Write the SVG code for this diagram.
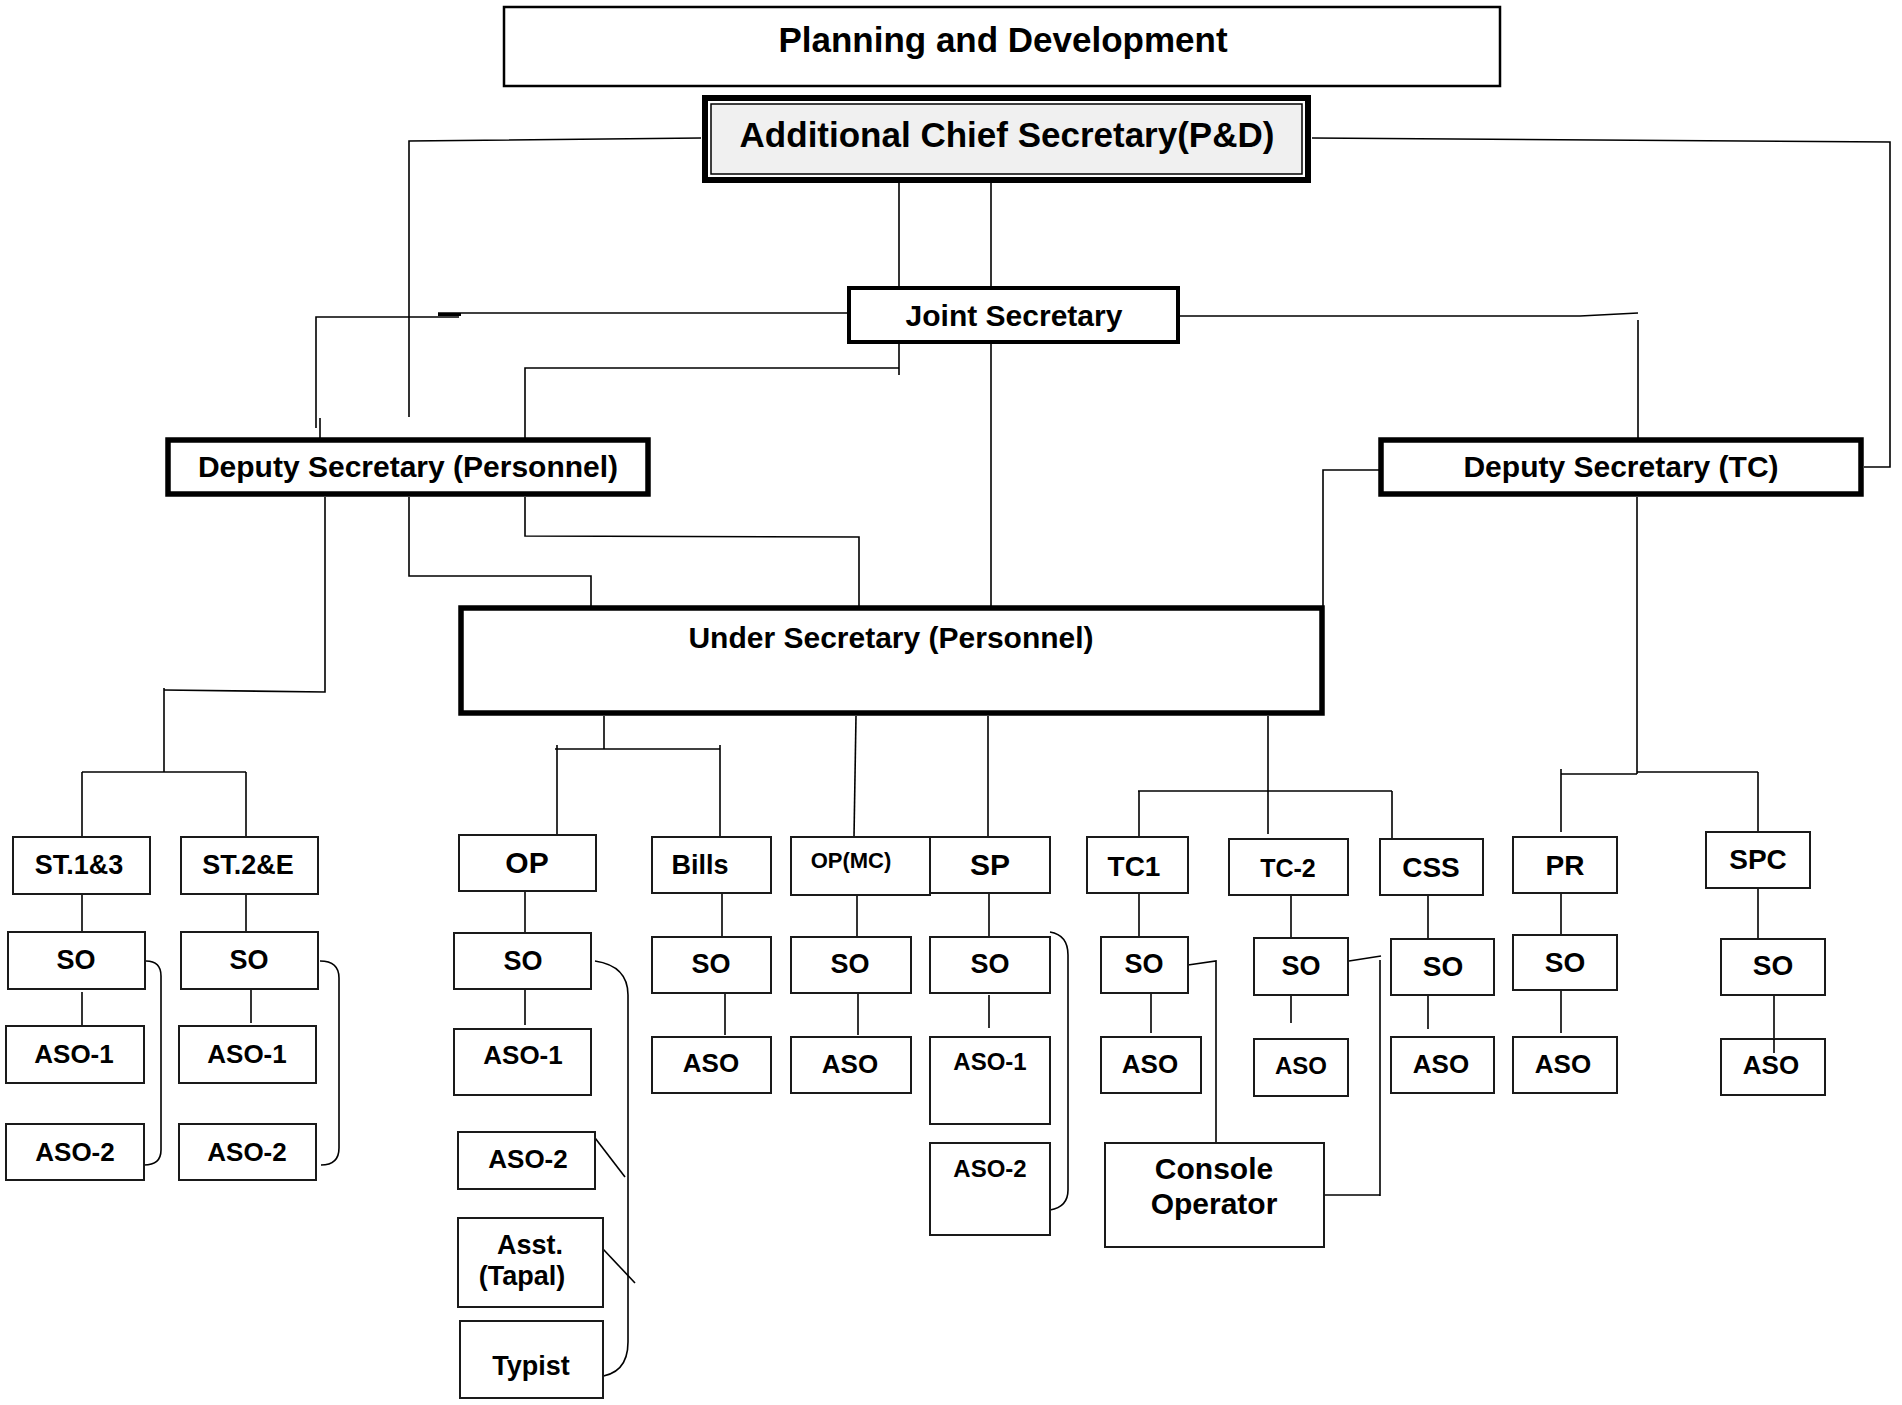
<svg xmlns="http://www.w3.org/2000/svg" width="1902" height="1405" viewBox="0 0 1902 1405">
<style>
.box{fill:#fff;stroke:#1a1a1a;stroke-width:2}
.b4{fill:#fff;stroke:#000;stroke-width:4}
.b5{fill:#fff;stroke:#000;stroke-width:5.5}
.t{font-family:"Liberation Sans",Arial,sans-serif;font-weight:bold;text-anchor:middle;fill:#000}
.s35{font-size:35px}.s30{font-size:30px}.s28{font-size:28px}.s27{font-size:27px}.s26{font-size:26px}.s24{font-size:24px}.s22{font-size:22px}
.ln{fill:none;stroke:#000;stroke-width:1.6}
</style>
<rect width="1902" height="1405" fill="#fff"/>
<g id="connectors" class="ln">
<polyline points="701,138 409,141 409,417"/>
<polyline points="1312,138 1890,142 1890,467 1864,467"/>
<line x1="899" y1="183" x2="899" y2="286"/>
<line x1="991" y1="183" x2="991" y2="286"/>
<line x1="847" y1="313" x2="438" y2="313"/>
<line x1="438" y1="314.5" x2="461" y2="314.5" stroke-width="3"/>
<polyline points="459,317 316,317 316,428"/>
<line x1="320" y1="418" x2="320" y2="438"/>
<polyline points="1180,316 1580,316 1638,313"/>
<line x1="1638" y1="320" x2="1638" y2="438"/>
<line x1="899" y1="344" x2="899" y2="375"/>
<polyline points="899,368 525,368 525,438"/>
<line x1="991" y1="344" x2="991" y2="606"/>
<polyline points="325,497 325,692 164,690"/>
<line x1="164" y1="688" x2="164" y2="772"/>
<line x1="82" y1="772" x2="246" y2="772"/>
<line x1="82" y1="772" x2="82" y2="837"/>
<line x1="246" y1="772" x2="246" y2="837"/>
<polyline points="409,497 409,576 591,576 591,606"/>
<polyline points="525,497 525,536 859,537 859,606"/>
<polyline points="1379,470 1323,470 1323,606"/>
<line x1="1637" y1="497" x2="1637" y2="774"/>
<line x1="1637" y1="774" x2="1561" y2="774"/>
<line x1="1561" y1="769" x2="1561" y2="832"/>
<line x1="1637" y1="772" x2="1758" y2="772"/>
<line x1="1758" y1="772" x2="1758" y2="839"/>
<line x1="604" y1="716" x2="604" y2="749"/>
<line x1="555" y1="749" x2="720" y2="749"/>
<line x1="557" y1="745" x2="557" y2="835"/>
<line x1="720" y1="745" x2="720" y2="837"/>
<line x1="856" y1="716" x2="854" y2="837"/>
<line x1="988" y1="716" x2="988" y2="837"/>
<line x1="1268" y1="716" x2="1268" y2="834"/>
<line x1="1138" y1="791" x2="1392" y2="791"/>
<line x1="1139" y1="791" x2="1139" y2="837"/>
<line x1="1392" y1="791" x2="1392" y2="839"/>
<line x1="525" y1="836" x2="546" y2="836" stroke-width="3"/>
<line x1="82" y1="894" x2="82" y2="932"/>
<line x1="82" y1="992" x2="82" y2="1025"/>
<line x1="246" y1="894" x2="246" y2="934"/>
<line x1="251" y1="989" x2="251" y2="1023"/>
<line x1="525" y1="888" x2="525" y2="933"/>
<line x1="525" y1="981" x2="525" y2="1025"/>
<line x1="722" y1="893" x2="722" y2="937"/>
<line x1="725" y1="993" x2="725" y2="1035"/>
<line x1="857" y1="895" x2="857" y2="937"/>
<line x1="858" y1="993" x2="858" y2="1035"/>
<line x1="989" y1="893" x2="989" y2="938"/>
<line x1="989" y1="995" x2="989" y2="1028"/>
<line x1="1139" y1="893" x2="1139" y2="937"/>
<line x1="1151" y1="993" x2="1151" y2="1033"/>
<line x1="1291" y1="895" x2="1291" y2="938"/>
<line x1="1291" y1="995" x2="1291" y2="1023"/>
<line x1="1428" y1="895" x2="1428" y2="939"/>
<line x1="1428" y1="995" x2="1428" y2="1029"/>
<line x1="1561" y1="893" x2="1561" y2="935"/>
<line x1="1561" y1="990" x2="1561" y2="1033"/>
<line x1="1758" y1="876" x2="1758" y2="939"/>
<line x1="1774" y1="988" x2="1774" y2="1053"/>
<path d="M146,961 Q161,961 161,976 L161,1150 Q161,1165 144,1165"/>
<path d="M320,961 Q339,961 339,978 L339,1148 Q339,1165 321,1165"/>
<path d="M595,961 Q628,966 628,995 L628,1342 Q628,1375 596,1377"/>
<path d="M1050,932 Q1068,935 1068,955 L1068,1190 Q1068,1207 1050,1210"/>
<line x1="592" y1="1134" x2="625" y2="1177"/>
<line x1="603" y1="1249" x2="635" y2="1283"/>
<polyline points="1188,965 1216,961 1216,1143"/>
<polyline points="1349,961 1381,956"/>
<line x1="1380" y1="960" x2="1380" y2="1196"/>
<line x1="1324" y1="1195" x2="1380" y2="1195"/>
</g>
<g id="n-planning"><rect x="504" y="7" width="996" height="79" fill="#fff" stroke="#000" stroke-width="2.5"/><text class="t s35" x="1003" y="52">Planning and Development</text></g>
<g id="n-acs"><rect x="705" y="98" width="603" height="82" fill="#fff" stroke="#000" stroke-width="6"/><rect x="711" y="104" width="591" height="70" fill="#f0f0f0" stroke="#000" stroke-width="1.5"/><text class="t s35" x="1007" y="147">Additional Chief Secretary(P&amp;D)</text></g>
<g id="n-js"><rect class="b4" x="849" y="288" width="329" height="54"/><text class="t s30" x="1014" y="326">Joint Secretary</text></g>
<g id="n-dsp"><rect class="b5" x="168" y="440" width="480" height="54"/><text class="t s30" x="408" y="477">Deputy Secretary (Personnel)</text></g>
<g id="n-dstc"><rect class="b5" x="1381" y="440" width="480" height="54"/><text class="t s30" x="1621" y="477">Deputy Secretary (TC)</text></g>
<g id="n-us"><rect class="b5" x="461" y="608" width="861" height="105"/><text class="t s30" x="891" y="648">Under Secretary (Personnel)</text></g>
<g id="n-st13"><rect class="box" x="13" y="837" width="137" height="57"/><text class="t s27" x="79" y="874">ST.1&amp;3</text></g>
<g id="n-st2e"><rect class="box" x="181" y="837" width="137" height="57"/><text class="t s27" x="248" y="874">ST.2&amp;E</text></g>
<g id="n-so1"><rect class="box" x="8" y="932" width="137" height="57"/><text class="t s27" x="76" y="969">SO</text></g>
<g id="n-so2"><rect class="box" x="181" y="932" width="137" height="57"/><text class="t s27" x="249" y="969">SO</text></g>
<g id="n-aso1a"><rect class="box" x="6" y="1026" width="138" height="57"/><text class="t s26" x="74" y="1063">ASO-1</text></g>
<g id="n-aso1b"><rect class="box" x="179" y="1026" width="137" height="57"/><text class="t s26" x="247" y="1063">ASO-1</text></g>
<g id="n-aso2a"><rect class="box" x="6" y="1124" width="138" height="56"/><text class="t s26" x="75" y="1161">ASO-2</text></g>
<g id="n-aso2b"><rect class="box" x="179" y="1124" width="137" height="56"/><text class="t s26" x="247" y="1161">ASO-2</text></g>
<g id="n-op"><rect class="box" x="459" y="835" width="137" height="56"/><text class="t s30" x="527" y="873">OP</text></g>
<g id="n-op-so"><rect class="box" x="454" y="933" width="137" height="56"/><text class="t s27" x="523" y="970">SO</text></g>
<g id="n-op-aso1"><rect class="box" x="454" y="1029" width="137" height="66"/><text class="t s26" x="523" y="1064">ASO-1</text></g>
<g id="n-op-aso2"><rect class="box" x="458" y="1132" width="137" height="57"/><text class="t s26" x="528" y="1168">ASO-2</text></g>
<g id="n-tapal"><rect class="box" x="458" y="1218" width="145" height="89"/><text class="t s27" x="530" y="1254">Asst.</text><text class="t s27" x="522" y="1285">(Tapal)</text></g>
<g id="n-typist"><rect class="box" x="460" y="1321" width="143" height="77"/><text class="t s27" x="531" y="1375">Typist</text></g>
<g id="n-bills"><rect class="box" x="652" y="837" width="119" height="56"/><text class="t s27" x="700" y="874">Bills</text></g>
<g id="n-bills-so"><rect class="box" x="652" y="937" width="119" height="56"/><text class="t s27" x="711" y="973">SO</text></g>
<g id="n-bills-aso"><rect class="box" x="652" y="1037" width="119" height="56"/><text class="t s26" x="711" y="1072">ASO</text></g>
<g id="n-opmc"><rect class="box" x="791" y="837" width="139" height="58"/><text class="t s22" x="851" y="868">OP(MC)</text></g>
<g id="n-opmc-so"><rect class="box" x="791" y="937" width="120" height="56"/><text class="t s27" x="850" y="973">SO</text></g>
<g id="n-opmc-aso"><rect class="box" x="791" y="1037" width="120" height="56"/><text class="t s26" x="850" y="1073">ASO</text></g>
<g id="n-sp"><rect class="box" x="930" y="837" width="120" height="56"/><text class="t s30" x="990" y="875">SP</text></g>
<g id="n-sp-so"><rect class="box" x="930" y="937" width="120" height="56"/><text class="t s27" x="990" y="973">SO</text></g>
<g id="n-sp-aso1"><rect class="box" x="930" y="1037" width="120" height="87"/><text class="t s24" x="990" y="1070">ASO-1</text></g>
<g id="n-sp-aso2"><rect class="box" x="930" y="1143" width="120" height="92"/><text class="t s24" x="990" y="1177">ASO-2</text></g>
<g id="n-tc1"><rect class="box" x="1087" y="837" width="101" height="56"/><text class="t s28" x="1134" y="876">TC1</text></g>
<g id="n-tc1-so"><rect class="box" x="1101" y="937" width="87" height="56"/><text class="t s27" x="1144" y="973">SO</text></g>
<g id="n-tc1-aso"><rect class="box" x="1101" y="1037" width="100" height="56"/><text class="t s26" x="1150" y="1073">ASO</text></g>
<g id="n-console"><rect class="box" x="1105" y="1143" width="219" height="104"/><text class="t s30" x="1214" y="1179">Console</text><text class="t s30" x="1214" y="1214">Operator</text></g>
<g id="n-tc2"><rect class="box" x="1229" y="839" width="119" height="56"/><text class="t" style="font-size:25px" x="1288" y="877">TC-2</text></g>
<g id="n-tc2-so"><rect class="box" x="1254" y="938" width="94" height="57"/><text class="t s27" x="1301" y="975">SO</text></g>
<g id="n-tc2-aso"><rect class="box" x="1254" y="1039" width="94" height="57"/><text class="t s24" x="1301" y="1074">ASO</text></g>
<g id="n-css"><rect class="box" x="1380" y="839" width="103" height="56"/><text class="t s28" x="1431" y="877">CSS</text></g>
<g id="n-css-so"><rect class="box" x="1391" y="939" width="103" height="56"/><text class="t s28" x="1443" y="976">SO</text></g>
<g id="n-css-aso"><rect class="box" x="1391" y="1037" width="103" height="56"/><text class="t s26" x="1441" y="1073">ASO</text></g>
<g id="n-pr"><rect class="box" x="1513" y="837" width="104" height="56"/><text class="t s28" x="1565" y="875">PR</text></g>
<g id="n-pr-so"><rect class="box" x="1513" y="935" width="104" height="55"/><text class="t s28" x="1565" y="972">SO</text></g>
<g id="n-pr-aso"><rect class="box" x="1513" y="1037" width="104" height="56"/><text class="t s26" x="1563" y="1073">ASO</text></g>
<g id="n-spc"><rect class="box" x="1706" y="832" width="104" height="56"/><text class="t s28" x="1758" y="869">SPC</text></g>
<g id="n-spc-so"><rect class="box" x="1721" y="939" width="104" height="56"/><text class="t s28" x="1773" y="975">SO</text></g>
<g id="n-spc-aso"><rect class="box" x="1721" y="1039" width="104" height="56"/><text class="t s26" x="1771" y="1074">ASO</text></g>
<line x1="1774" y1="1039" x2="1774" y2="1053" stroke="#000" stroke-width="1.6"/>
</svg>
